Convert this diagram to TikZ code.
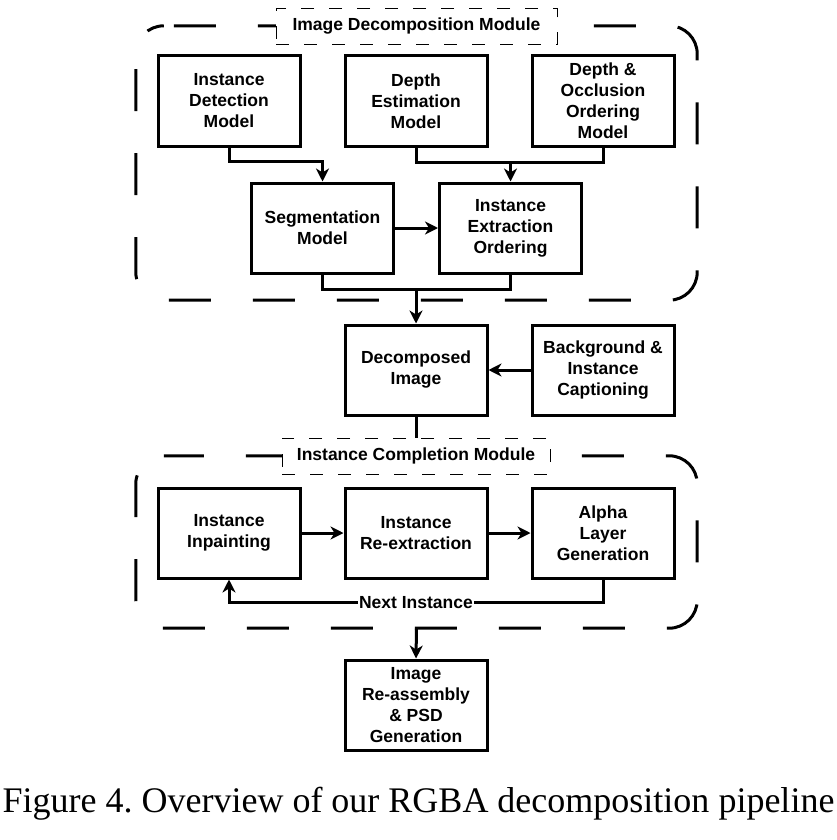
\documentclass[tikz,border=0pt]{standalone}
\usepackage{fontspec}
\setmainfont{Liberation Serif}
\setsansfont{Liberation Sans}
\usetikzlibrary{arrows.meta}
\tikzset{
  block/.style    = {shape=rectangle, draw, line width=3pt, align=center,
                     font=\sffamily\bfseries\fontsize{17.5}{21}\selectfont,
                     minimum width=142pt, minimum height=90pt, inner sep=0pt},
  module/.style   = {shape=rectangle, minimum width=561pt, inner sep=0pt},
  modline/.style  = {line width=3pt, rounded corners=28pt,
                     dash pattern=on 42pt off 42pt, dash phase=#1},
  modtitle/.style = {shape=rectangle, draw, line width=0.8pt,
                     dash pattern=on 13pt off 15pt, fill=white,
                     font=\sffamily\bfseries\fontsize{17.5}{21}\selectfont,
                     minimum height=36pt, inner sep=0pt},
  link/.style     = {line width=3pt},
  arrow/.style    = {link, -{Stealth[length=13pt,width=13pt,inset=4pt]}}
}

\begin{document}
\begin{tikzpicture}[x=1pt,y=-1pt]
  \useasboundingbox (0,0) rectangle (837,840);

  \node [module, minimum height=274pt] (decomp) at (416.5,163) {};
  \node [module, minimum height=172pt] (complete) at (416.5,542) {};
  \draw [modline=74pt] (decomp.north west) -- (decomp.north east)
        -- (decomp.south east) -- (decomp.south west) -- cycle;
  \draw [modline=2pt] (complete.north west) -- (complete.north east)
        -- (complete.south east) -- (complete.south west) -- cycle;
  \node [modtitle, minimum width=281pt] (title1) at (416.5,26.5) {Image Decomposition Module};
  \node [modtitle, minimum width=268pt] (title2) at (416,456) {Instance Completion Module};

  \node [block] (detect) at (229,101) {Instance\\Detection\\Model};
  \node [block] (depth)  at (416,101) {Depth\\Estimation\\Model};
  \node [block] (occl)   at (603,101) {Depth \&\\Occlusion\\Ordering\\Model};
  \node [block] (seg)    at (322.5,228) {Segmentation\\Model};
  \node [block] (ieo)    at (510.5,228) {Instance\\Extraction\\Ordering};

  \node [block] (decomposed) at (416,370) {Decomposed\\Image};
  \node [block] (bgcap)      at (603,370) {Background \&\\Instance\\Captioning};

  \node [block] (inpaint) at (229,533) {Instance\\Inpainting};
  \node [block] (reext)   at (416,533) {Instance\\Re-extraction};
  \node [block] (alpha)   at (603,533) {Alpha\\Layer\\Generation};

  \node [block] (reassembly) at (416,705) {Image\\Re-assembly\\\& PSD\\Generation};

  \coordinate (j1) at (510.5,162);
  \coordinate (j2) at (416,289);

  \draw [arrow] (detect.south) -- ++(0,14) -| (seg.north);
  \draw [link]  (depth.south) |- (j1) -| (occl.south);
  \draw [arrow] (j1) -- (ieo.north);
  \draw [arrow] (seg.east) -- (ieo.west);
  \draw [link]  (seg.south) |- (j2) -| (ieo.south);
  \draw [arrow] (j2) -- (decomposed.north);
  \draw [arrow] (bgcap.west) -- (decomposed.east);
  \draw [link]  (decomposed.south) -- (title2.north);

  \draw [arrow] (inpaint.east) -- (reext.west);
  \draw [arrow] (reext.east) -- (alpha.west);
  \draw [arrow] (alpha.south) -- ++(0,23) -| node [pos=0.25, fill=white, inner sep=1pt,
        font=\sffamily\bfseries\fontsize{17.5}{21}\selectfont] {Next Instance} (inpaint.south);
  \draw [arrow] (complete.south) -- (reassembly.north);

  \node [font=\fontsize{36}{40}\selectfont\frenchspacing] (fig) at (418.5,804)
        {Figure 4. Overview of our RGBA decomposition pipeline};
\end{tikzpicture}
\end{document}
